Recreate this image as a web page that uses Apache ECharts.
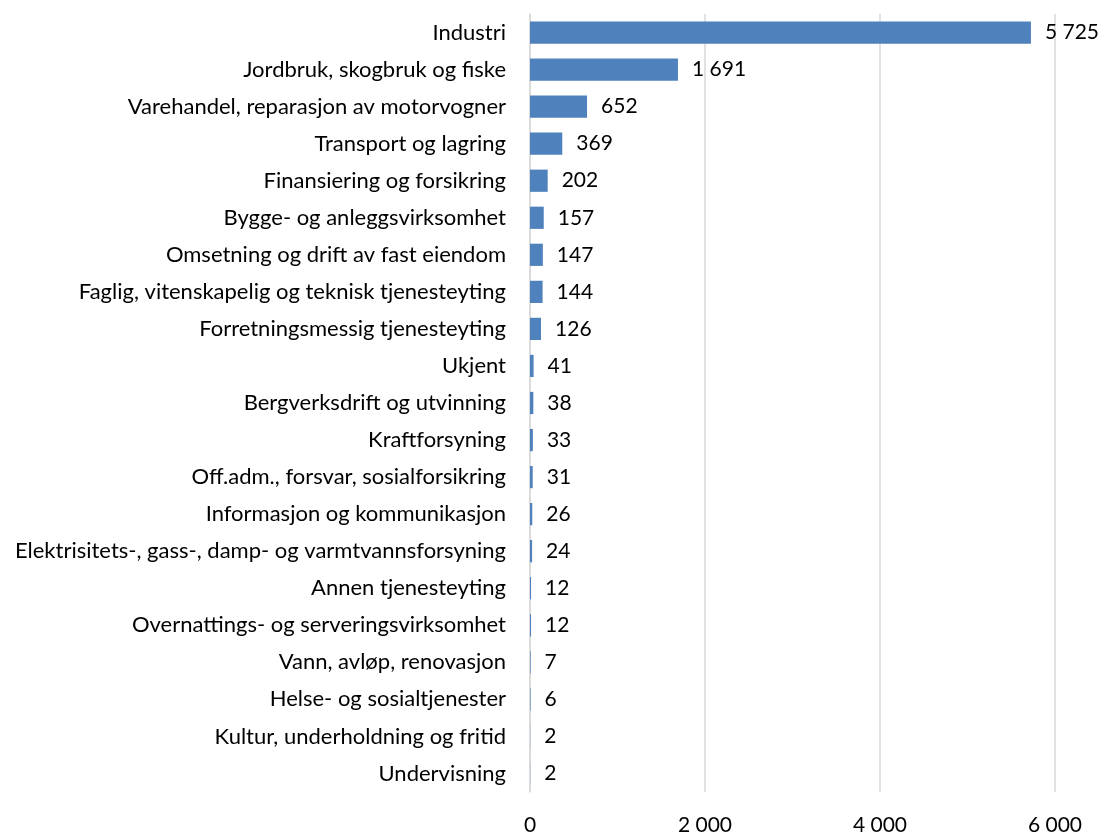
<!DOCTYPE html>
<html><head><meta charset="utf-8">
<script src="https://cdn.jsdelivr.net/npm/echarts@6/dist/echarts.min.js"></script>
<style>html,body{margin:0;padding:0;background:#fff}#c{width:1103px;height:832px}</style>
</head><body><div id="c"></div>
<script>
const categories = ["Industri","Jordbruk, skogbruk og fiske","Varehandel, reparasjon av motorvogner","Transport og lagring","Finansiering og forsikring","Bygge- og anleggsvirksomhet","Omsetning og drift av fast eiendom","Faglig, vitenskapelig og teknisk tjenesteyting","Forretningsmessig tjenesteyting","Ukjent","Bergverksdrift og utvinning","Kraftforsyning","Off.adm., forsvar, sosialforsikring","Informasjon og kommunikasjon","Elektrisitets-, gass-, damp- og varmtvannsforsyning","Annen tjenesteyting","Overnattings- og serveringsvirksomhet","Vann, avløp, renovasjon","Helse- og sosialtjenester","Kultur, underholdning og fritid","Undervisning"];
const values = [5725,1691,652,369,202,157,147,144,126,41,38,33,31,26,24,12,12,7,6,2,2];
const xTicks = [0,2000,4000,6000];
const fmt = v => String(v).replace(/\B(?=(\d{3})+(?!\d))/g, ' ');
const chart = echarts.init(document.getElementById('c'));
const FONT = 'Lato';
chart.setOption({
  animation:false,
  grid:{left:530,right:48,top:14,bottom:40,outerBoundsMode:'none',containLabel:false},
  xAxis:{type:'value',min:xTicks[0],max:xTicks[xTicks.length-1],interval:2000,
    axisLine:{show:false},axisTick:{show:false},
    splitLine:{show:true,lineStyle:{color:'#D9D9D9',width:1.5}},
    axisLabel:{formatter:fmt,color:'#000',fontFamily:FONT,fontSize:21,margin:23}},
  yAxis:{type:'category',data:categories,inverse:true,
    axisLine:{show:true,lineStyle:{color:'#D9D9D9',width:1.5}},axisTick:{show:false},
    axisLabel:{color:'#000',fontFamily:FONT,fontSize:22,margin:24}},
  series:[{type:'bar',data:values,barCategoryGap:'40%',
    itemStyle:{color:'#4F81BD'},
    label:{show:true,position:'right',distance:14,formatter:p=>fmt(p.value),color:'#000',fontFamily:FONT,fontSize:21}}]
});
</script></body></html>
